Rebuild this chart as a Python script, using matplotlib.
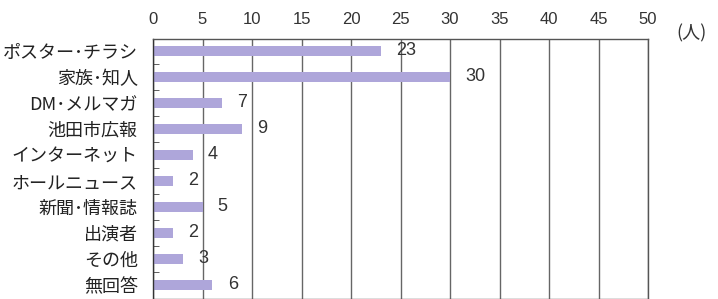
import matplotlib.pyplot as plt
import numpy as np

plt.rcParams['font.family'] = ['Noto Sans CJK JP', 'DejaVu Sans']

# 回答項目と人数
categories = ['ポスター･チラシ', '家族･知人', 'DM･メルマガ', '池田市広報', 'インターネット',
              'ホールニュース', '新聞･情報誌', '出演者', 'その他', '無回答']
counts = [23, 30, 7, 9, 4, 2, 5, 2, 3, 6]
xticks = [0, 5, 10, 15, 20, 25, 30, 35, 40, 45, 50]

fig = plt.figure(figsize=(7.18, 2.99), dpi=100)
ax = fig.add_axes([153 / 718, 0.0, 495 / 718, 260 / 299])

y = np.arange(len(categories))
ax.barh(y, counts, height=0.4, color='#aea6da', zorder=2)

for yi, v in zip(y, counts):
    ax.annotate(str(v), (v, yi), xytext=(11, 0), textcoords='offset points',
                ha='left', va='center', fontsize=13, color='#333333',
                family='Liberation Sans', zorder=3)

ax.set_xlim(0, 50)
ax.set_ylim(9.54, -0.46)
ax.set_xticks(xticks)
ax.xaxis.tick_top()
ax.tick_params(axis='x', length=0, pad=9, labelsize=12, labelcolor='#333333')
for lab in ax.get_xticklabels():
    lab.set_family('Liberation Sans')
ax.grid(axis='x', color='#666666', linewidth=1.0, zorder=1)

ax.set_yticks(y)
ax.set_yticklabels(categories, fontsize=13, color='#222222')
ax.tick_params(axis='y', which='major', length=0, pad=11)
ax.set_yticks(np.arange(len(categories) - 1) + 0.5, minor=True)
ax.tick_params(axis='y', which='minor', direction='in', length=4, color='#444444')

for s in ax.spines.values():
    s.set_color('#555555')
    s.set_linewidth(1.0)
ax.spines['left'].set_color('#333333')

fig.text(676 / 718, 1 - 33 / 299, '(人)', fontsize=13, color='#333333', va='center', ha='left')

fig.savefig('out.png', dpi=100)
